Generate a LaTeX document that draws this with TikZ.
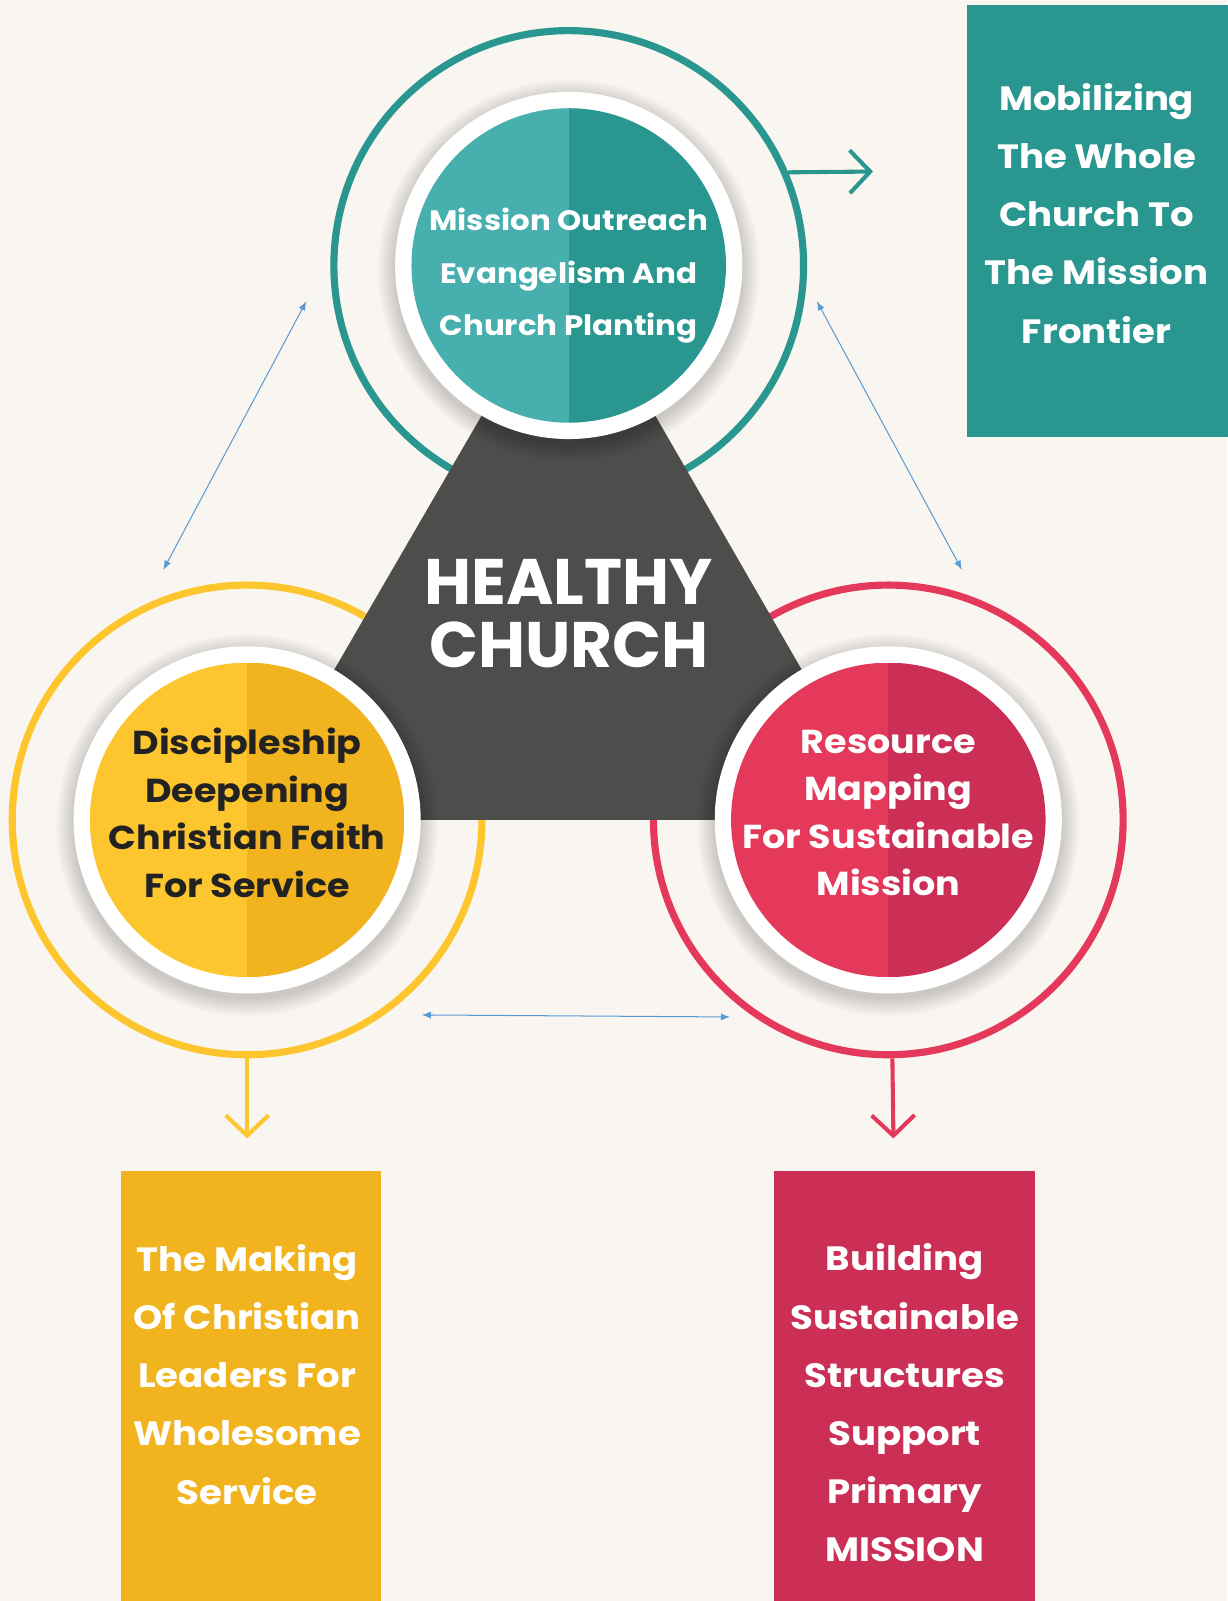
\documentclass[tikz,border=0pt]{standalone}
\usepackage{fontspec}
\setmainfont{Poppins}
\newfontfamily\popw{Poppins}[FakeStretch=1.1]
\usetikzlibrary{arrows.meta}
\definecolor{bg}{HTML}{F9F6F1}
\definecolor{tealL}{HTML}{47AFAE}
\definecolor{tealD}{HTML}{29968F}
\definecolor{yelL}{HTML}{FDC62F}
\definecolor{yelD}{HTML}{F2B41E}
\definecolor{redL}{HTML}{E4395A}
\definecolor{redD}{HTML}{CB2F55}
\definecolor{tri}{HTML}{4D4D4B}
\definecolor{blueA}{HTML}{5B9BD5}
\definecolor{ink}{HTML}{222222}
\tikzset{
  ring/.style={circle, draw=#1, line width=7pt, minimum size=460pt, inner sep=0pt},
  whitedisc/.style={circle, fill=white, minimum size=340pt, inner sep=0pt},
  halfdisc/.style 2 args={circle, minimum size=308pt, inner sep=0pt,
    path picture={\fill[#1] (path picture bounding box.south west) rectangle (path picture bounding box.north);
                  \fill[#2] (path picture bounding box.south) rectangle (path picture bounding box.north east);}},
  circtext/.style={align=center, text=#1, font=\popw\bfseries\fontsize{27.5}{51}\selectfont},
  bigtext/.style={align=center, text=#1, font=\popw\bfseries\fontsize{32.5}{46.5}\selectfont},
  boxtext/.style={align=center, text=white, font=\popw\bfseries\fontsize{33}{57}\selectfont},
  panel/.style={fill=#1, minimum width=255pt, minimum height=423pt, inner sep=0pt, anchor=north west},
  outarrow/.style={draw=#1, line width=4pt, -{Straight Barb[length=20pt,width=42pt]}},
  linkarrow/.style={draw=blueA, line width=1pt, {Latex[length=9pt,width=7pt]}-{Latex[length=9pt,width=7pt]}},
}
\begin{document}
\begin{tikzpicture}[x=1pt,y=-1pt]
\useasboundingbox (0,0) rectangle (1202,1568);
\fill[bg] (0,0) rectangle (1202,1568);
% outer rings
\node[ring=tealD] (tr) at (557,260) {};
\node[ring=yelL] (yr) at (242,803) {};
\node[ring=redL] (rr) at (870,803) {};
% triangle
\fill[tri] (tr.center) -- (yr.center) -- (rr.center) -- cycle;
% shadows
\foreach \c in {tr,yr,rr}{
  \foreach \r in {171,173,...,187}{
    \fill[black,opacity=0.018] (\c.center) ++(0,5) circle (\r pt);
  }
}
% white discs
\node[whitedisc] (tw) at (tr.center) {};
\node[whitedisc] (yw) at (yr.center) {};
\node[whitedisc] (rw) at (rr.center) {};
% inner discs
\node[halfdisc={tealL}{tealD}] (tc) at (tr.center) {};
\node[halfdisc={yelL}{yelD}] (yc) at (yr.center) {};
\node[halfdisc={redL}{redD}] (rc) at (rr.center) {};
% circle texts
\node[circtext=white] (tt) at (557,270) {Mission Outreach\\Evangelism And\\Church Planting};
\node[bigtext=ink] (yt) at (242,796) {Discipleship\\Deepening\\Christian Faith\\For Service};
\node[bigtext=white] (rt) at (870,796) {Resource\\Mapping\\For Sustainable\\Mission};
\node[align=center, text=white, font=\bfseries\fontsize{63}{62}\selectfont] (hc) at (557,601) {HEALTHY\\CHURCH};
% panels
\node[panel=tealD] (pt) at (947,5) {};
\node[panel=yelD, minimum height=421pt] (py) at (118,1147) {};
\node[panel=redD, minimum height=421pt] (pr) at (758,1147) {};
\node[boxtext] (ptt) at (1074,209) {Mobilizing\\The Whole\\Church To\\The Mission\\Frontier};
\node[boxtext] (pyt) at (242,1346) {The Making\\Of Christian\\Leaders For\\Wholesome\\Service};
\node[boxtext] (prt) at (886,1374) {Building\\Sustainable\\Structures\\Support\\Primary\\MISSION};
% output arrows
\coordinate (ta) at (855,168);
\coordinate (ya) at (242,1115);
\coordinate (ra) at (875,1115);
\draw[outarrow=tealD] (tr.23.6) -- (ta);
\draw[outarrow=yelL] (yr.south) -- (ya);
\draw[outarrow=redL] ([xshift=4pt]rr.south) -- (ra);
% link arrows
\coordinate (l1) at (300,295);
\coordinate (l2) at (160,558);
\coordinate (r1) at (800,295);
\coordinate (r2) at (942,558);
\coordinate (b1) at (413,994);
\coordinate (b2) at (715,996);
\draw[linkarrow] (l1) -- (l2);
\draw[linkarrow] (r1) -- (r2);
\draw[linkarrow] (b1) -- (b2);
\end{tikzpicture}
\end{document}
